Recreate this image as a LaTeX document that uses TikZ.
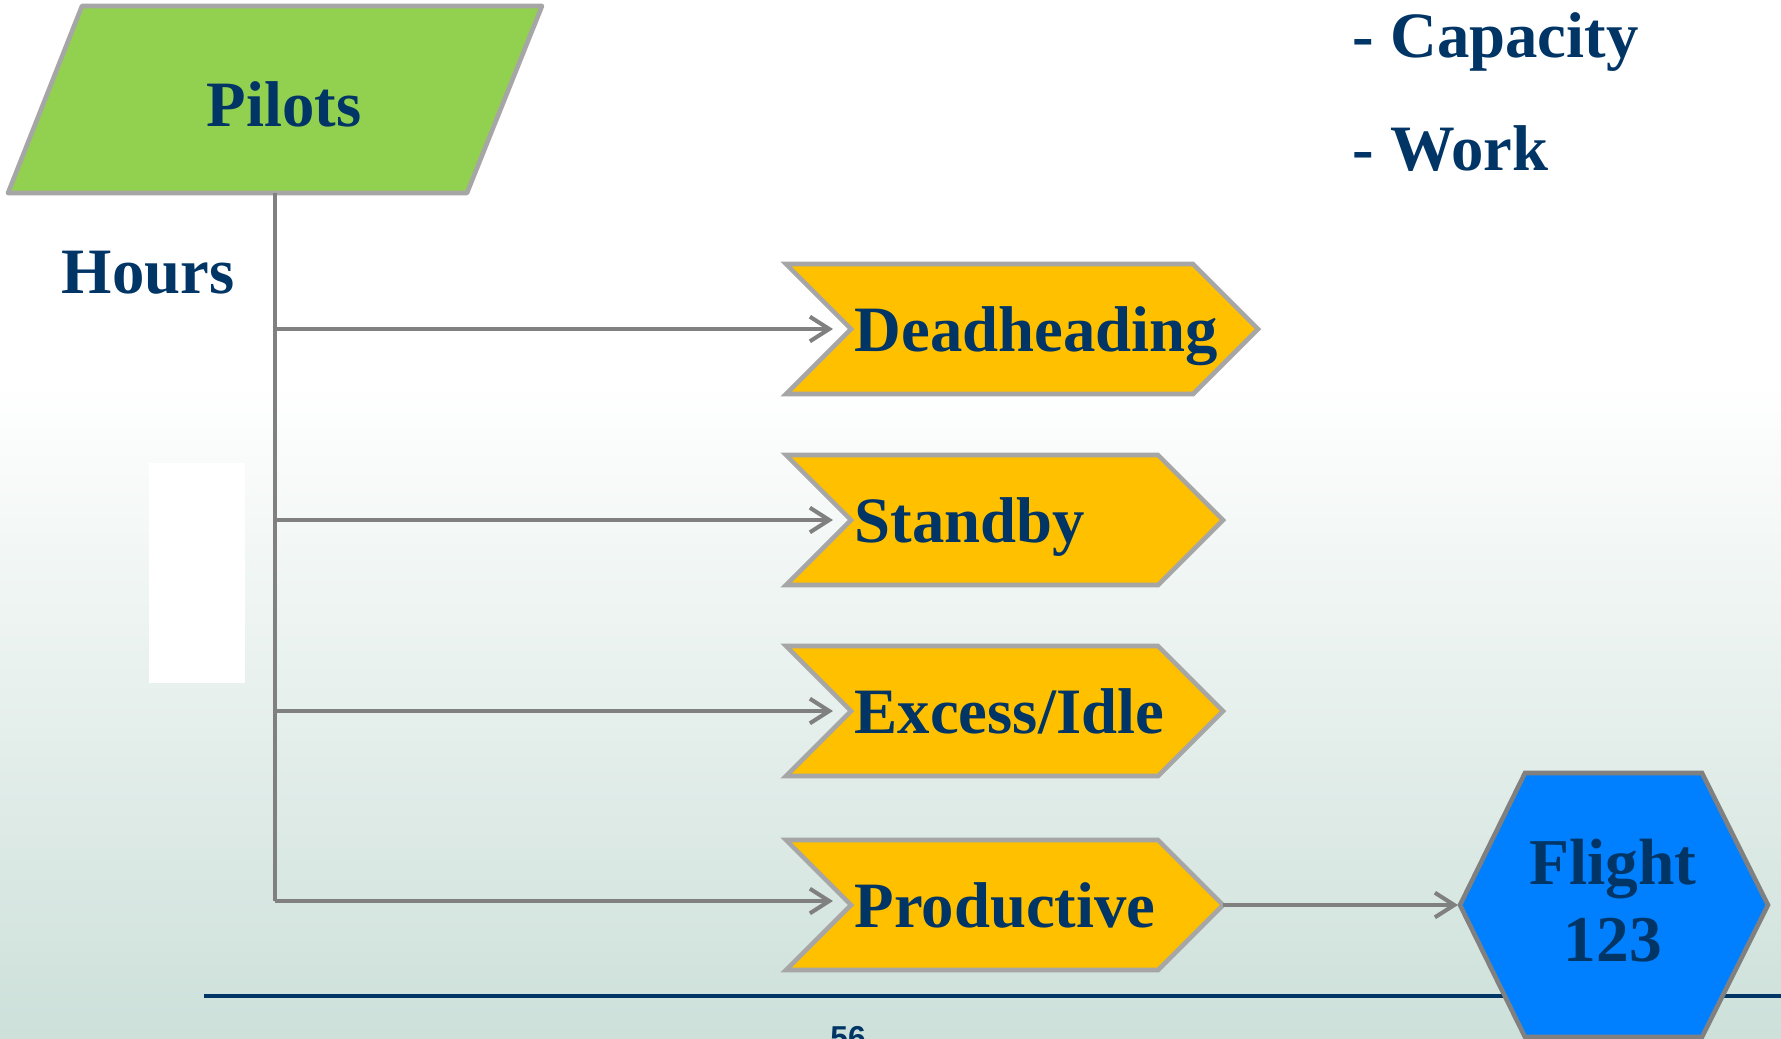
\documentclass[tikz,border=0pt]{standalone}
\usepackage{fontspec}
\setmainfont{Liberation Serif}
\setsansfont{Liberation Sans}
\usetikzlibrary{arrows.meta}
\definecolor{navy}{RGB}{0,53,102}
\definecolor{pilotgreen}{RGB}{146,208,80}
\definecolor{chevgold}{RGB}{255,192,0}
\definecolor{flightblue}{RGB}{0,128,255}
\definecolor{bordergray}{RGB}{166,166,166}
\definecolor{hexgray}{RGB}{128,128,128}
\definecolor{linegray}{RGB}{128,128,128}
\definecolor{bgbottom}{RGB}{205,224,218}
% #1 name, #2 y centre, #3 shoulder x, #4 text
\newcommand\mychev[4]{%
  \draw[chevshape] (786,#2-65) -- (#3,#2-65) -- (#3+65,#2) -- (#3,#2+65)
     -- (786,#2+65) -- (851,#2) -- cycle;
  \coordinate (#1-in) at (850,#2);
  \coordinate (#1-out) at (#3+65,#2);
  \node[lbl, anchor=base west] (#1) at (854,#2+22) {#4};
}
\begin{document}
\begin{tikzpicture}[x=0.01cm,y=-0.01cm,
  lbl/.style={font=\fontsize{18.4}{22}\selectfont\bfseries, text=navy, inner sep=0pt},
  chevshape/.style={fill=chevgold, draw=bordergray, line width=1.3pt, line join=miter},
  branch/.style={draw=linegray, line width=1.15pt, -{Straight Barb[length=5.5pt,width=7pt]}},
  trunk/.style={draw=linegray, line width=1.15pt}
]
\useasboundingbox (0,0) rectangle (1781,1038);
\clip (0,0) rectangle (1781,1038);
% background
\fill[white] (0,0) rectangle (1781,1038);
\shade[top color=white, bottom color=bgbottom] (0,380) rectangle (1781,1038);
\fill[white] (149,463) rectangle (245,683);

% Pilots parallelogram
\draw[fill=pilotgreen, draw=bordergray, line width=1.3pt, line join=round]
  (82,6) -- (542,6) -- (467,193) -- (8,193) -- cycle;
\node[lbl] (pilots) at (284,104) {Pilots};
\coordinate (pilots-bottom) at (275,193);

\node[lbl, anchor=base west] (hours) at (61,293) {Hours};
\node[lbl, anchor=base west] (capacity) at (1352,57) {- Capacity};
\node[lbl, anchor=base west] (work) at (1352,170) {- Work};

% chevrons
\mychev{dead}{329}{1193}{Deadheading}
\mychev{stand}{520}{1158}{Standby}
\mychev{excess}{711}{1158}{Excess/Idle}
\mychev{prod}{905}{1158}{Productive}

% trunk and branches
\coordinate (b1) at (275,329);
\coordinate (b2) at (275,520);
\coordinate (b3) at (275,711);
\coordinate (b4) at (275,901);
\coordinate (p4) at (850,901);
\draw[trunk] (pilots-bottom) -- (b4);
\draw[branch, shorten >=0.17cm] (b1) -- (dead-in);
\draw[branch, shorten >=0.17cm] (b2) -- (stand-in);
\draw[branch, shorten >=0.17cm] (b3) -- (excess-in);
\draw[branch, shorten >=0.17cm] (b4) -- (p4);

% bottom rule
\draw[navy, line width=0.9pt] (204,996) -- (1781,996);
\node[font=\sffamily\bfseries\fontsize{9}{10}\selectfont, text=navy, anchor=north, inner sep=0pt] (pagenum) at (848,1026) {56};

% hexagon
\draw[fill=flightblue, draw=hexgray, line width=1.3pt, line join=miter]
  (1460,905) -- (1525,773) -- (1702,773) -- (1768,905) -- (1702,1037) -- (1525,1037) -- cycle;
\coordinate (flight-in) at (1460,905);
\node[lbl, align=center, font=\fontsize{18.6}{21.9}\selectfont\bfseries] (flight) at (1613,901) {Flight\\123};
\draw[branch, shorten >=0.02cm] (prod-out) -- (flight-in);
\end{tikzpicture}
\end{document}
